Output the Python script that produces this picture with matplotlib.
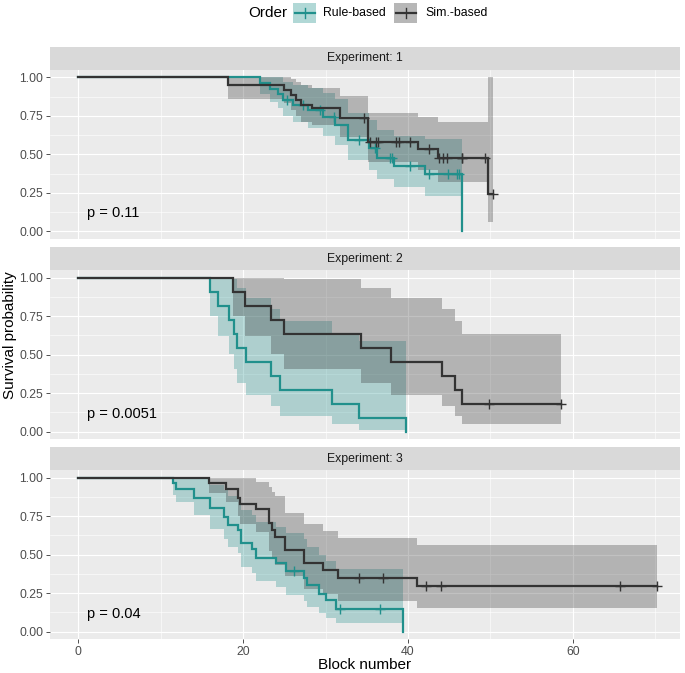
import numpy as np
import matplotlib
matplotlib.use("Agg")
from matplotlib import pyplot as plt
from matplotlib.patches import Rectangle
from matplotlib.lines import Line2D

plt.rcParams['font.family'] = ['Liberation Sans', 'DejaVu Sans']

nan = np.nan

""" DATA (read off the reference picture) """
experiments = [1, 2, 3]
p_values = ["p = 0.11", "p = 0.0051", "p = 0.04"]
group_names = ["Rule-based", "Sim.-based"]
group_colors = ["#21908C", "#333333"]
x_ticks = [0, 20, 40, 60]
y_ticks = [0.0, 0.25, 0.5, 0.75, 1.0]
y_tick_labels = ["0.00", "0.25", "0.50", "0.75", "1.00"]

# Experiment 1
e1_rule_t = [0, 22.0, 23.2, 24.2, 24.8, 26.0, 27.9, 29.7, 31.1, 32.7, 35.2, 36.2, 38.3, 42.1, 46.6]
e1_rule_s = [1, .962, .925, .893, .854, .821, .789, .745, .691, .594, .540, .475, .427, .371, 0]
e1_rule_lo = [1, .89, .84, .80, .75, .71, .67, .62, .56, .46, .40, .34, .29, .23, nan]
e1_rule_hi = [1, 1, 1, 1, .97, .95, .93, .90, .86, .77, .72, .66, .62, .60, nan]
e1_rule_cens = [25.3, 27.2, 29.3, 31.0, 34.0, 36.0, 37.8, 38.1, 40.2, 42.6, 44.9, 45.9, 46.2]
e1_rule_end = 46.6

e1_sim_t = [0, 18.2, 25.0, 25.8, 26.4, 27.0, 28.3, 31.7, 35.1, 41.2, 43.6, 49.7]
e1_sim_s = [1, .947, .92, .886, .854, .821, .80, .735, .58, .532, .477, .24]
e1_sim_lo = [1, .86, .83, .79, .75, .71, .69, .61, .45, .40, .32, .06]
e1_sim_hi = [1, 1, 1, .99, .97, .95, .93, .88, .77, .74, .71, 1]
e1_sim_cens = [34.6, 35.4, 36.1, 36.4, 38.5, 38.9, 40.2, 42.6, 43.7, 44.2, 44.7, 46.5, 46.6, 49.3, 50.3]
e1_sim_end = 50.3

# Experiment 2
e2_rule_t = [0, 16.0, 16.9, 18.3, 18.9, 19.2, 20.3, 23.4, 24.5, 30.8, 34.0, 39.7]
e2_rule_s = [1, .909, .818, .727, .636, .545, .455, .364, .273, .182, .091, 0]
e2_rule_lo = [1, .754, .619, .506, .407, .318, .238, .166, .104, .052, .014, nan]
e2_rule_hi = [1, 1, 1, 1, .994, .935, .869, .795, .716, .637, .588, nan]
e2_rule_cens = []
e2_rule_end = 39.7

e2_sim_t = [0, 18.8, 20.2, 23.4, 25.0, 34.3, 37.9, 44.1, 45.7, 46.6]
e2_sim_s = [1, .909, .818, .727, .636, .545, .455, .364, .273, .182]
e2_sim_lo = [1, .754, .619, .506, .407, .318, .238, .166, .104, .052]
e2_sim_hi = [1, 1, 1, 1, .994, .935, .869, .795, .716, .637]
e2_sim_cens = [49.8, 58.5]
e2_sim_end = 58.5

# Experiment 3
e3_rule_t = [0, 11.5, 11.9, 14.0, 16.0, 17.7, 18.1, 19.4, 19.7, 21.1, 21.6, 24.0, 25.2,
             27.4, 27.7, 29.2, 30.0, 31.2, 39.4]
e3_rule_s = [1, .963, .928, .870, .80, .746, .696, .663, .577, .54, .48, .443, .393,
             .35, .30, .247, .204, .15, 0]
e3_rule_lo = [1, .89, .84, .76, .67, .60, .55, .51, .42, .38, .33, .29, .24,
              .20, .16, .12, .09, .055, nan]
e3_rule_hi = [1, 1, 1, 1, .95, .92, .88, .86, .79, .76, .71, .68, .64,
              .60, .55, .50, .46, .41, nan]
e3_rule_cens = [26.1, 31.7, 36.6]
e3_rule_end = 39.4

e3_sim_t = [0, 15.9, 17.9, 19.4, 19.6, 21.6, 23.1, 23.5, 23.9, 25.1, 27.4, 29.7, 31.5, 41.1]
e3_sim_s = [1, .964, .926, .866, .827, .794, .703, .66, .616, .529, .443, .40, .35, .295]
e3_sim_lo = [1, .90, .84, .75, .70, .65, .526, .479, .431, .363, .28, .245, .20, .154]
e3_sim_hi = [1, 1, 1, 1, 1, .97, .94, .91, .88, .77, .70, .653, .61, .566]
e3_sim_cens = [34.1, 37.0, 42.2, 44.0, 65.7, 70.2]
e3_sim_end = 70.2

curves = [
    [(e1_rule_t, e1_rule_s, e1_rule_lo, e1_rule_hi, e1_rule_cens, e1_rule_end),
     (e1_sim_t, e1_sim_s, e1_sim_lo, e1_sim_hi, e1_sim_cens, e1_sim_end)],
    [(e2_rule_t, e2_rule_s, e2_rule_lo, e2_rule_hi, e2_rule_cens, e2_rule_end),
     (e2_sim_t, e2_sim_s, e2_sim_lo, e2_sim_hi, e2_sim_cens, e2_sim_end)],
    [(e3_rule_t, e3_rule_s, e3_rule_lo, e3_rule_hi, e3_rule_cens, e3_rule_end),
     (e3_sim_t, e3_sim_s, e3_sim_lo, e3_sim_hi, e3_sim_cens, e3_sim_end)],
]

""" LAYOUT (pixels) """
W, H = 685, 673


def box(left, top, right, bottom):
    return [left / W, 1 - bottom / H, (right - left) / W, (bottom - top) / H]


fig = plt.figure(figsize=(W / 100, H / 100), dpi=100)

panel_left, panel_right = 50, 680
panel_tops = [69.6, 270.0, 470.0]
panel_h = 169.4
strip_h = 22.6

for i, exp in enumerate(experiments):
    top = panel_tops[i]
    ax = fig.add_axes(box(panel_left, top, panel_right, top + panel_h))
    ax.set_facecolor("#EBEBEB")
    for sp in ax.spines.values():
        sp.set_visible(False)
    ax.set_xlim(-3.45, 73.0)
    ax.set_ylim(-0.05, 1.05)
    ax.set_xticks(x_ticks)
    ax.set_xticks([10, 30, 50, 70], minor=True)
    ax.set_yticks(y_ticks)
    ax.set_yticks([0.125, 0.375, 0.625, 0.875], minor=True)
    ax.set_yticklabels(y_tick_labels)
    ax.grid(which="major", color="white", lw=0.8)
    ax.grid(which="minor", color="white", lw=0.4)
    ax.set_axisbelow(True)
    ax.tick_params(which="major", length=2.75, width=0.6, color="#333333",
                   labelsize=8.8, labelcolor="#4D4D4D", pad=2)
    ax.tick_params(which="minor", length=0)
    if i < 2:
        ax.tick_params(axis="x", which="major", length=0, labelbottom=False)

    for g, (t, s, lo, hi, cens, t_end) in enumerate(curves[i]):
        col = group_colors[g]
        t = np.array(t, float)
        s = np.array(s, float)
        lo = np.array(lo, float)
        hi = np.array(hi, float)
        # confidence band
        ok = ~np.isnan(lo)
        band_end = t[~ok][0] if (~ok).any() else t_end
        bx = np.append(t[ok], band_end)
        ax.fill_between(bx, np.append(lo[ok], lo[ok][-1]), np.append(hi[ok], hi[ok][-1]),
                        step="post", color=col, alpha=0.3, lw=0)
        # survival curve
        ax.step(np.append(t, t_end), np.append(s, s[-1]), where="post",
                color=col, lw=1.6, solid_joinstyle="miter")
        # censor marks
        if len(cens):
            cens = np.array(cens, float)
            idx = np.searchsorted(t, cens, side="right") - 1
            ax.plot(cens, s[idx], ls="none", marker="+", ms=7, mew=1.0, color=col)

    ax.text(1.1, 0.117, p_values[i], fontsize=10.5, color="black", va="center", ha="left")

    sax = fig.add_axes(box(panel_left, top - strip_h, panel_right, top))
    sax.set_facecolor("#D9D9D9")
    sax.set_xticks([])
    sax.set_yticks([])
    for sp in sax.spines.values():
        sp.set_visible(False)
    sax.text(0.5, 0.5, "Experiment: %d" % exp, transform=sax.transAxes,
             ha="center", va="center", fontsize=8.8, color="#1A1A1A")

# axis titles
fig.text(10 / W, 1 - 335 / H, "Survival probability", rotation=90,
         ha="center", va="center", fontsize=11)
fig.text(365 / W, 1 - 665 / H, "Block number", ha="center", va="center", fontsize=11)

# legend (drawn by hand, title on the left)
fig.text(248 / W, 1 - 13 / H, "Order", ha="left", va="center", fontsize=11)
key_x = [293, 394]
label_x = [323, 425]
for g in range(2):
    x0 = key_x[g]
    fig.add_artist(Rectangle((x0 / W, 1 - 23 / H), 23 / W, 20 / H, transform=fig.transFigure,
                             facecolor=group_colors[g], alpha=0.35, lw=0))
    fig.add_artist(Line2D([(x0 + 1.5) / W, (x0 + 21.5) / W], [1 - 13 / H, 1 - 13 / H],
                          transform=fig.transFigure, color=group_colors[g], lw=1.6))
    fig.add_artist(Line2D([(x0 + 11.5) / W, (x0 + 11.5) / W], [1 - 8 / H, 1 - 18 / H],
                          transform=fig.transFigure, color=group_colors[g], lw=1.0))
    fig.text(label_x[g] / W, 1 - 13 / H, group_names[g], ha="left", va="center", fontsize=8.8)

fig.savefig("out.png", dpi=100, facecolor="white")
